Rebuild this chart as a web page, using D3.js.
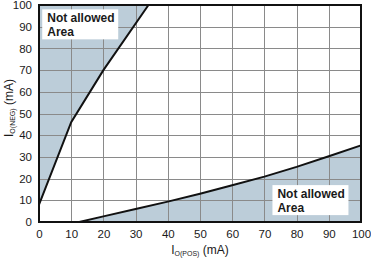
<!DOCTYPE html>
<html>
<head>
<meta charset="utf-8">
<script src="https://cdn.jsdelivr.net/npm/d3@7"></script>
<style>
  body { margin: 0; background: #fff; }
  svg { display: block; font-family: Arial, "Liberation Sans", sans-serif; }
  .tick text { font-size: 11.5px; fill: #1a1a1a; }
  .zone-label { font-size: 12px; font-weight: bold; fill: #1a1a1a; }
</style>
</head>
<body>
<div id="chart"></div>
<script>
const WIDTH = 371;
const HEIGHT = 258;
const MARGIN = { top: 5, right: 10, bottom: 36, left: 39 };

// upper boundary: I_O(NEG) limit vs I_O(POS)
const upperX = [0, 10, 20, 34];
const upperY = [8, 46, 70, 100];

// lower boundary
const lowerX = [12.5, 20, 30, 40, 50, 60, 70, 80, 90, 100];
const lowerY = [0, 2.6, 6, 9.4, 13, 16.9, 20.9, 25.4, 30.3, 35.3];

const xTicks = [0, 10, 20, 30, 40, 50, 60, 70, 80, 90, 100];
const yTicks = [0, 10, 20, 30, 40, 50, 60, 70, 80, 90, 100];

const FILL = "#bccdd9";

const innerW = WIDTH - MARGIN.left - MARGIN.right;
const innerH = HEIGHT - MARGIN.top - MARGIN.bottom;

const svg = d3.select("#chart").append("svg")
  .attr("width", WIDTH)
  .attr("height", HEIGHT);

const g = svg.append("g")
  .attr("transform", `translate(${MARGIN.left},${MARGIN.top})`);

const x = d3.scaleLinear().domain([0, 100]).range([0, innerW]);
const y = d3.scaleLinear().domain([0, 100]).range([innerH, 0]);

const upper = upperX.map((v, i) => [v, upperY[i]]);
const lower = lowerX.map((v, i) => [v, lowerY[i]]);

const line = d3.line().x(d => x(d[0])).y(d => y(d[1]));

// shaded "not allowed" regions
g.append("path")
  .attr("fill", FILL)
  .attr("d", line([[0, 100], ...upper.slice().reverse(), [0, 8]]) + "Z");

g.append("path")
  .attr("fill", FILL)
  .attr("d", line([...lower, [100, 0]]) + "Z");

// grid
g.append("g")
  .selectAll("line")
  .data(xTicks.slice(1, -1))
  .join("line")
  .attr("x1", d => Math.round(x(d)) + 0.5)
  .attr("x2", d => Math.round(x(d)) + 0.5)
  .attr("y1", 0)
  .attr("y2", innerH)
  .attr("stroke", "#8a8a8a")
  .attr("stroke-width", 1);

g.append("g")
  .selectAll("line")
  .data(yTicks.slice(1, -1))
  .join("line")
  .attr("y1", d => Math.round(y(d)) + 0.5)
  .attr("y2", d => Math.round(y(d)) + 0.5)
  .attr("x1", 0)
  .attr("x2", innerW)
  .attr("stroke", "#8a8a8a")
  .attr("stroke-width", 1);

// boundary curves
g.append("path")
  .attr("fill", "none")
  .attr("stroke", "#111")
  .attr("stroke-width", 2)
  .attr("d", line([[0, 0], ...upper]));

g.append("path")
  .attr("fill", "none")
  .attr("stroke", "#111")
  .attr("stroke-width", 2)
  .attr("d", line([[0, 0], ...lower]));

// frame
g.append("rect")
  .attr("width", innerW)
  .attr("height", innerH)
  .attr("fill", "none")
  .attr("stroke", "#111")
  .attr("stroke-width", 2);

// axes (labels only)
const xAxis = g.append("g")
  .attr("transform", `translate(0,${innerH})`)
  .call(d3.axisBottom(x).tickValues(xTicks).tickSize(0).tickPadding(8));
xAxis.select(".domain").remove();

const yAxis = g.append("g")
  .call(d3.axisLeft(y).tickValues(yTicks).tickSize(0).tickPadding(7));
yAxis.select(".domain").remove();

// zone labels
function zoneLabel(px, py) {
  const lg = g.append("g").attr("transform", `translate(${px},${py})`);
  lg.append("rect")
    .attr("width", 76)
    .attr("height", 30)
    .attr("fill", "#fff");
  lg.append("text").attr("class", "zone-label").attr("x", 5).attr("y", 13).text("Not allowed");
  lg.append("text").attr("class", "zone-label").attr("x", 5).attr("y", 27).text("Area");
}
zoneLabel(x(1), y(98));
zoneLabel(x(72.5), y(17));

// axis titles
const xt = svg.append("text")
  .attr("x", MARGIN.left + innerW / 2)
  .attr("y", 254)
  .attr("text-anchor", "middle")
  .attr("font-size", 12)
  .attr("fill", "#1a1a1a");
xt.append("tspan").text("I");
xt.append("tspan").attr("font-size", 7).attr("dy", 2).text("O(POS)");
xt.append("tspan").attr("dy", -2).text(" (mA)");

const yt = svg.append("text")
  .attr("transform", "rotate(-90)")
  .attr("x", -108)
  .attr("y", 13)
  .attr("text-anchor", "middle")
  .attr("font-size", 12)
  .attr("fill", "#1a1a1a");
yt.append("tspan").text("I");
yt.append("tspan").attr("font-size", 7).attr("dy", 2).text("O(NEG)");
yt.append("tspan").attr("dy", -2).text(" (mA)");
</script>
</body>
</html>
